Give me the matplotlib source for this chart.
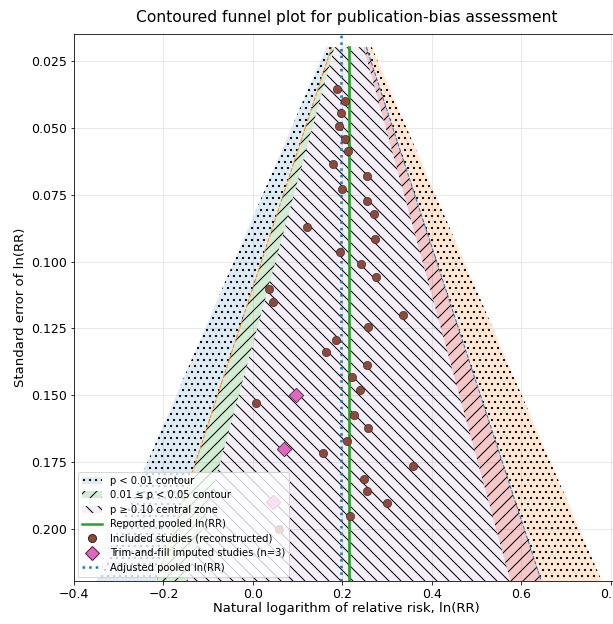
import numpy as np
import matplotlib
matplotlib.use("Agg")
from matplotlib import pyplot as plt
from matplotlib.patches import Patch
from matplotlib.lines import Line2D

# pooled estimates (ln RR)
pooled = 0.215
adjusted = 0.198

# funnel range of standard errors
se_range = [0.0198, 0.2194]

# included studies (ln RR, SE)
study_lnrr = [0.188, 0.206, 0.197, 0.193, 0.206, 0.213, 0.180, 0.255, 0.199,
              0.255, 0.270, 0.122, 0.274, 0.195, 0.242, 0.275, 0.036, 0.045,
              0.335, 0.257, 0.187, 0.163, 0.255, 0.222, 0.240, 0.006, 0.227,
              0.258, 0.211, 0.156, 0.357, 0.248, 0.255, 0.299, 0.218, 0.058]
study_se = [0.0353, 0.0399, 0.0446, 0.0494, 0.0540, 0.0588, 0.0635, 0.0680,
            0.0728, 0.0775, 0.0823, 0.0869, 0.0917, 0.0963, 0.1010, 0.1057,
            0.1104, 0.1152, 0.1198, 0.1246, 0.1292, 0.1339, 0.1385, 0.1433,
            0.1479, 0.1528, 0.1574, 0.1622, 0.1670, 0.1716, 0.1763, 0.1811,
            0.1857, 0.1903, 0.1952, 0.2000]

# trim-and-fill imputed studies
imputed_lnrr = [0.096, 0.069, 0.045]
imputed_se = [0.150, 0.1701, 0.190]

fig = plt.figure(figsize=(613 / 72, 624 / 72), dpi=72)
ax = fig.add_axes([0.1207, 0.069, 0.89, 0.876])

se = np.array(se_range)
z01, z05, z10 = 2.576, 1.96, 1.645

def rgba(c, a):
    r, g, b, _ = matplotlib.colors.to_rgba(c)
    return (r, g, b, a)

blue_fill = rgba("tab:blue", 0.14)
orange_fill = rgba("tab:orange", 0.18)
green_fill = rgba("tab:green", 0.2)
red_fill = rgba("tab:red", 0.25)
purple_fill = rgba("tab:purple", 0.11)

# outer p < 0.01 bands
ax.fill_betweenx(se, pooled - z01 * se, pooled - z05 * se,
                 facecolor=blue_fill, edgecolor="k", linewidth=0, hatch="..")
ax.fill_betweenx(se, pooled + z05 * se, pooled + z01 * se,
                 facecolor=orange_fill, edgecolor="k", linewidth=0, hatch="..")
# middle bands
ax.fill_betweenx(se, pooled - z05 * se, pooled - z10 * se,
                 facecolor=green_fill, edgecolor="k", linewidth=0, hatch="//")
ax.fill_betweenx(se, pooled + z10 * se, pooled + z05 * se,
                 facecolor=red_fill, edgecolor="k", linewidth=0, hatch="//")
# central zone
ax.fill_betweenx(se, pooled - z10 * se, pooled + z10 * se,
                 facecolor=purple_fill, edgecolor="k", linewidth=0, hatch="\\\\")

ax.plot(pooled - z05 * se, se, color="tab:orange", linestyle="--", linewidth=1)
ax.plot(pooled + z05 * se, se, color="tab:blue", linestyle="--", linewidth=1)

ax.plot([pooled, pooled], se, color="tab:green", linewidth=2.7, zorder=3)
ax.scatter(study_lnrr, study_se, s=68, color="#8c4a3e", edgecolors="#3a2018",
           linewidths=0.6, zorder=4)
ax.scatter(imputed_lnrr, imputed_se, s=105, marker="D", color="#e066c0",
           edgecolors="#4a2040", linewidths=0.8, zorder=4)
ax.axvline(adjusted, color="tab:blue", linestyle=":", linewidth=2.5, zorder=3)

ax.set_xlim(-0.4, 0.82)
ax.set_ylim(0.2194, 0.015)
ax.set_xticks([-0.4, -0.2, 0.0, 0.2, 0.4, 0.6, 0.8])
ax.set_yticks([0.025, 0.05, 0.075, 0.1, 0.125, 0.15, 0.175, 0.2])
ax.tick_params(labelsize=12.5)
ax.grid(True, color="#dddddd", linewidth=0.9, alpha=0.7)
ax.set_axisbelow(True)

ax.set_title("Contoured funnel plot for publication-bias assessment", fontsize=15.5, pad=12)
ax.set_xlabel("Natural logarithm of relative risk, ln(RR)", fontsize=13.3, labelpad=1)
ax.set_ylabel("Standard error of ln(RR)", fontsize=13.3)

handles = [
    Patch(facecolor=blue_fill, edgecolor="k", linewidth=0, hatch=".."),
    Patch(facecolor=green_fill, edgecolor="k", linewidth=0, hatch="//"),
    Patch(facecolor=purple_fill, edgecolor="k", linewidth=0, hatch="\\\\"),
    Line2D([], [], color="tab:green", linewidth=2.5),
    Line2D([], [], marker="o", linestyle="none", markersize=8,
           markerfacecolor="#8c4a3e", markeredgecolor="#3a2018"),
    Line2D([], [], marker="D", linestyle="none", markersize=9.5,
           markerfacecolor="#e066c0", markeredgecolor="#4a2040"),
    Line2D([], [], color="tab:blue", linestyle=":", linewidth=2.5),
]
labels = ["p < 0.01 contour", "0.01 \u2264 p < 0.05 contour", "p \u2265 0.10 central zone",
          "Reported pooled ln(RR)", "Included studies (reconstructed)",
          "Trim-and-fill imputed studies (n=3)", "Adjusted pooled ln(RR)"]
ax.legend(handles, labels, loc="lower left", fontsize=10, framealpha=0.8,
          borderaxespad=0.4, handlelength=2.0, labelspacing=0.45)

fig.savefig("out.png", dpi=72)
